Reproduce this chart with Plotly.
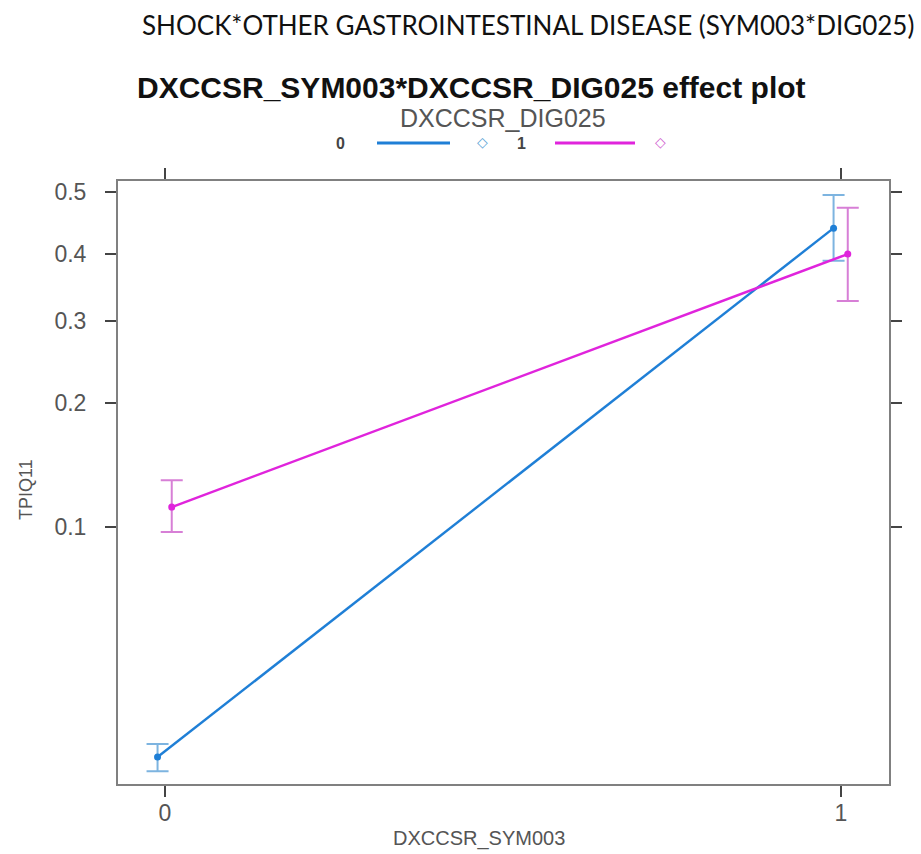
import numpy as np
import plotly.graph_objects as go

# ---- data (probabilities) ----
sym003_levels = [0, 1]
dig025_levels = ["0", "1"]
fit_dig0 = [0.0240, 0.441]
lower_dig0 = [0.0219, 0.389]
upper_dig0 = [0.0261, 0.495]
fit_dig1 = [0.1124, 0.3997]
lower_dig1 = [0.0971, 0.3285]
upper_dig1 = [0.1313, 0.474]
y_ticks = [0.1, 0.2, 0.3, 0.4, 0.5]
x_ticks = [0, 1]


def logit(p):
    p = np.asarray(p, dtype=float)
    return np.log(p / (1 - p))


W, H = 921, 854
L, R, T, B = 118, 32, 181, 70
PW, PH = W - L - R, H - T - B

line_cols = ["#1f7fd6", "#e024dc"]
err_cols = ["#7db4e0", "#d77fd6"]
dodge = [-0.011, 0.01]

fig = go.Figure()
series = [(fit_dig0, lower_dig0, upper_dig0), (fit_dig1, lower_dig1, upper_dig1)]
for i, (fit, lo, up) in enumerate(series):
    fy = logit(fit)
    fig.add_trace(go.Scatter(
        x=np.array(sym003_levels, dtype=float) + dodge[i],
        y=fy,
        mode="lines+markers",
        line=dict(color=line_cols[i], width=2.4),
        marker=dict(color=line_cols[i], size=7),
        error_y=dict(type="data", symmetric=False,
                     array=logit(up) - fy, arrayminus=fy - logit(lo),
                     color=err_cols[i], thickness=2, width=11),
        name=dig025_levels[i], showlegend=False,
    ))

axis_common = dict(showline=True, linecolor="#808080", linewidth=2, mirror="ticks",
                   ticks="outside", ticklen=11, tickwidth=2, tickcolor="#444444",
                   showgrid=False, zeroline=False,
                   tickfont=dict(family="Liberation Sans", size=23, color="#555555"))

fig.update_xaxes(range=[-0.0695, 1.071], tickvals=x_ticks, ticktext=[str(v) for v in x_ticks],
                 ticklabelstandoff=-4, **axis_common)
fig.update_yaxes(range=[-3.882, 0.072], tickvals=logit(y_ticks).tolist(),
                 ticktext=[str(v) for v in y_ticks], ticklabelstandoff=14, **axis_common)


def px(x):
    return (x - L) / PW


def py(y):
    return (H - B - y) / PH


ann = [
    dict(text="SHOCK*OTHER GASTROINTESTINAL DISEASE (SYM003*DIG025)", x=528, y=25,
         font=dict(family="Lato", size=26, color="#111111")),
    dict(text="<b>DXCCSR_SYM003*DXCCSR_DIG025 effect plot</b>", x=471, y=88,
         font=dict(family="Liberation Sans", size=30, color="#111111")),
    dict(text="DXCCSR_DIG025", x=503, y=118,
         font=dict(family="Liberation Sans", size=25, color="#555555")),
    dict(text="<b>0</b>", x=340, y=143, font=dict(family="Liberation Sans", size=16, color="#444444")),
    dict(text="<b>1</b>", x=521, y=143, font=dict(family="Liberation Sans", size=16, color="#444444")),
    dict(text="◇", x=482, y=142, font=dict(family="DejaVu Sans", size=14, color="#5aa3d6")),
    dict(text="◇", x=660, y=142, font=dict(family="DejaVu Sans", size=14, color="#d060d0")),
    dict(text="TPIQ11", x=26, y=490, textangle=-90,
         font=dict(family="Liberation Sans", size=18, color="#555555")),
    dict(text="DXCCSR_SYM003", x=479, y=838,
         font=dict(family="Liberation Sans", size=20, color="#555555")),
]

annotations = []
for a in ann:
    x, y = a.pop("x"), a.pop("y")
    annotations.append(dict(xref="paper", yref="paper", x=px(x), y=py(y),
                            xanchor="center", yanchor="middle", showarrow=False, **a))

shapes = []
for (x0, x1, c) in [(377, 450, line_cols[0]), (555, 635, line_cols[1])]:
    shapes.append(dict(type="line", xref="paper", yref="paper",
                       x0=px(x0), x1=px(x1), y0=py(143), y1=py(143),
                       line=dict(color=c, width=3)))

fig.update_layout(
    width=W, height=H,
    margin=dict(l=L, r=R, t=T, b=B),
    plot_bgcolor="white", paper_bgcolor="white",
    annotations=annotations, shapes=shapes,
)

fig.write_html("out.html", config={"displayModeBar": False},
               post_script="document.body.style.margin='0';document.body.style.padding='0';")
